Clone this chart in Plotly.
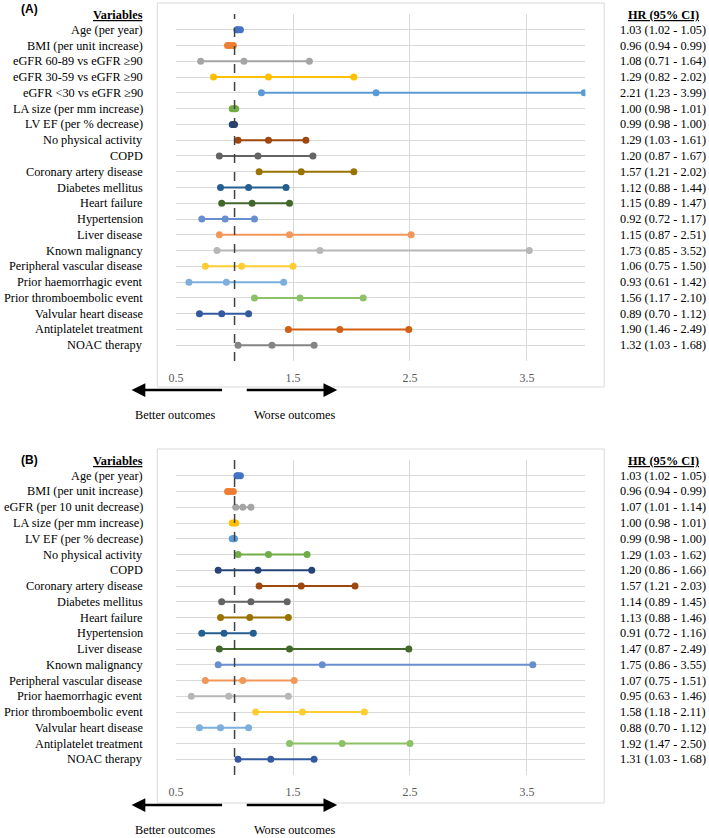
import plotly.graph_objects as go

# ---------------- Panel A data ----------------
vars_a = ["Age (per year)", "BMI (per unit increase)", "eGFR 60-89 vs eGFR ≥90",
          "eGFR 30-59 vs eGFR ≥90", "eGFR <30 vs eGFR ≥90", "LA size (per mm increase)",
          "LV EF (per % decrease)", "No physical activity", "COPD", "Coronary artery disease",
          "Diabetes mellitus", "Heart failure", "Hypertension", "Liver disease",
          "Known malignancy", "Peripheral vascular disease", "Prior haemorrhagic event",
          "Prior thromboembolic event", "Valvular heart disease", "Antiplatelet treatment",
          "NOAC therapy"]
hr_a = [1.03, 0.96, 1.08, 1.29, 2.21, 1.00, 0.99, 1.29, 1.20, 1.57, 1.12, 1.15, 0.92, 1.47,
        1.73, 1.06, 0.93, 1.56, 0.89, 1.90, 1.32]
lo_a = [1.02, 0.94, 0.71, 0.82, 1.23, 0.98, 0.98, 1.03, 0.87, 1.21, 0.88, 0.89, 0.72, 0.87,
        0.85, 0.75, 0.61, 1.17, 0.70, 1.46, 1.03]
hi_a = [1.05, 0.99, 1.64, 2.02, 3.99, 1.01, 1.00, 1.61, 1.67, 2.02, 1.44, 1.47, 1.17, 2.51,
        3.52, 1.50, 1.42, 2.10, 1.12, 2.49, 1.68]
text_a = ["1.03 (1.02 - 1.05)", "0.96 (0.94 - 0.99)", "1.08 (0.71 - 1.64)", "1.29 (0.82 - 2.02)",
          "2.21 (1.23 - 3.99)", "1.00 (0.98 - 1.01)", "0.99 (0.98 - 1.00)", "1.29 (1.03 - 1.61)",
          "1.20 (0.87 - 1.67)", "1.57 (1.21 - 2.02)", "1.12 (0.88 - 1.44)", "1.15 (0.89 - 1.47)",
          "0.92 (0.72 - 1.17)", "1.15 (0.87 - 2.51)", "1.73 (0.85 - 3.52)", "1.06 (0.75 - 1.50)",
          "0.93 (0.61 - 1.42)", "1.56 (1.17 - 2.10)", "0.89 (0.70 - 1.12)", "1.90 (1.46 - 2.49)",
          "1.32 (1.03 - 1.68)"]

# ---------------- Panel B data ----------------
vars_b = ["Age (per year)", "BMI (per unit increase)", "eGFR (per 10 unit decrease)",
          "LA size (per mm increase)", "LV EF (per % decrease)", "No physical activity", "COPD",
          "Coronary artery disease", "Diabetes mellitus", "Heart failure", "Hypertension",
          "Liver disease", "Known malignancy", "Peripheral vascular disease",
          "Prior haemorrhagic event", "Prior thromboembolic event", "Valvular heart disease",
          "Antiplatelet treatment", "NOAC therapy"]
hr_b = [1.03, 0.96, 1.07, 1.00, 0.99, 1.29, 1.20, 1.57, 1.14, 1.13, 0.91, 1.47, 1.75, 1.07,
        0.95, 1.58, 0.88, 1.92, 1.31]
lo_b = [1.02, 0.94, 1.01, 0.98, 0.98, 1.03, 0.86, 1.21, 0.89, 0.88, 0.72, 0.87, 0.86, 0.75,
        0.63, 1.18, 0.70, 1.47, 1.03]
hi_b = [1.05, 0.99, 1.14, 1.01, 1.00, 1.62, 1.66, 2.03, 1.45, 1.46, 1.16, 2.49, 3.55, 1.51,
        1.46, 2.11, 1.12, 2.50, 1.68]
text_b = ["1.03 (1.02 - 1.05)", "0.96 (0.94 - 0.99)", "1.07 (1.01 - 1.14)", "1.00 (0.98 - 1.01)",
          "0.99 (0.98 - 1.00)", "1.29 (1.03 - 1.62)", "1.20 (0.86 - 1.66)", "1.57 (1.21 - 2.03)",
          "1.14 (0.89 - 1.45)", "1.13 (0.88 - 1.46)", "0.91 (0.72 - 1.16)", "1.47 (0.87 - 2.49)",
          "1.75 (0.86 - 3.55)", "1.07 (0.75 - 1.51)", "0.95 (0.63 - 1.46)", "1.58 (1.18 - 2.11)",
          "0.88 (0.70 - 1.12)", "1.92 (1.47 - 2.50)", "1.31 (1.03 - 1.68)"]

x_ticks = [0.5, 1.5, 2.5, 3.5]

# Excel-like palette (style)
palette = ["#4472C4", "#ED7D31", "#A5A5A5", "#FFC000", "#5B9BD5", "#70AD47", "#264478",
           "#9E480E", "#636363", "#997300", "#255E91", "#43682B", "#698ED0", "#F1975A",
           "#B7B7B7", "#FFCD33", "#7CAFDD", "#8CC168", "#335AA1", "#D26012", "#848484"]

W, H = 709, 838
def px(x):
    return x / W
def py(y):
    return 1 - y / H

SERIF = "Liberation Serif"
SANS = "Liberation Sans"
FS = 12.3

fig = go.Figure()

panels = [
    dict(vars=vars_a, hr=hr_a, lo=lo_a, hi=hi_a, text=text_a, xa="x", ya="y",
         top=14, bot=361, box_top=3, box_bot=387, hdr=15, tag="(A)", tag_y=9,
         arrow_y=390, out_y=415),
    dict(vars=vars_b, hr=hr_b, lo=lo_b, hi=hi_b, text=text_b, xa="x2", ya="y2",
         top=460, bot=775, box_top=449, box_bot=803, hdr=461, tag="(B)", tag_y=460,
         arrow_y=805, out_y=830),
]

shapes = []
annotations = []
for p in panels:
    n = len(p["vars"])
    for i in range(n):
        fig.add_trace(go.Scatter(
            x=[p["lo"][i], p["hr"][i], p["hi"][i]], y=[i + 1] * 3,
            mode="lines+markers", xaxis=p["xa"], yaxis=p["ya"],
            line=dict(color=palette[i], width=2),
            marker=dict(color=palette[i], size=7),
            showlegend=False, hoverinfo="skip"))
        annotations.append(dict(x=px(139), xref="paper", y=i + 1, yref=p["ya"],
                                text=p["vars"][i], showarrow=False, xanchor="right",
                                yanchor="middle", font=dict(family=SERIF, size=FS, color="#000")))
        annotations.append(dict(x=px(662), xref="paper", y=i + 1, yref=p["ya"],
                                text=p["text"][i], showarrow=False, xanchor="center",
                                yanchor="middle", font=dict(family=SERIF, size=FS, color="#000")))
    # headers
    annotations.append(dict(x=px(139), xref="paper", y=py(p["hdr"]), yref="paper",
                            text="<b><u>Variables</u></b>", showarrow=False, xanchor="right",
                            yanchor="middle", font=dict(family=SERIF, size=FS, color="#000")))
    annotations.append(dict(x=px(663), xref="paper", y=py(p["hdr"]), yref="paper",
                            text="<b><u>HR (95% CI)</u></b>", showarrow=False, xanchor="center",
                            yanchor="middle", font=dict(family=SERIF, size=FS, color="#000")))
    annotations.append(dict(x=px(11), xref="paper", y=py(p["tag_y"]), yref="paper",
                            text="<b>" + p["tag"] + "</b>", showarrow=False, xanchor="left",
                            yanchor="middle", font=dict(family=SANS, size=12, color="#000")))
    # arrows
    annotations.append(dict(x=px(125), xref="paper", y=py(p["arrow_y"]), yref="paper",
                            ax=92, ay=0, axref="pixel", ayref="pixel", text="", showarrow=True,
                            arrowhead=2, arrowsize=1.1, arrowwidth=2.5, arrowcolor="#000"))
    annotations.append(dict(x=px(333), xref="paper", y=py(p["arrow_y"]), yref="paper",
                            ax=-92, ay=0, axref="pixel", ayref="pixel", text="", showarrow=True,
                            arrowhead=2, arrowsize=1.1, arrowwidth=2.5, arrowcolor="#000"))
    annotations.append(dict(x=px(169), xref="paper", y=py(p["out_y"]), yref="paper",
                            text="Better outcomes", showarrow=False, xanchor="center",
                            yanchor="middle", font=dict(family=SERIF, size=FS, color="#000")))
    annotations.append(dict(x=px(290), xref="paper", y=py(p["out_y"]), yref="paper",
                            text="Worse outcomes", showarrow=False, xanchor="center",
                            yanchor="middle", font=dict(family=SERIF, size=FS, color="#000")))
    # outer box
    shapes.append(dict(type="rect", xref="paper", yref="paper", x0=px(151), x1=px(603),
                       y0=py(p["box_bot"]), y1=py(p["box_top"]),
                       line=dict(color="#D9D9D9", width=1), layer="below"))
    # dashed reference line at HR = 1
    shapes.append(dict(type="line", xref=p["xa"], yref=p["ya"] + " domain", x0=1, x1=1,
                       y0=0, y1=1, line=dict(color="#404040", width=1.5, dash="dash")))

axis_x = dict(range=[0.5, 4.0], tickvals=x_ticks, ticktext=[str(v) for v in x_ticks],
              showgrid=True, gridcolor="#D9D9D9", gridwidth=1, zeroline=False,
              showline=False, ticks="outside", ticklen=6, tickcolor="rgba(0,0,0,0)",
              tickfont=dict(family=SERIF, size=12, color="#595959"), fixedrange=True)

fig.update_layout(
    width=W, height=H, margin=dict(l=0, r=0, t=0, b=0),
    paper_bgcolor="white", plot_bgcolor="white",
    xaxis=dict(axis_x, domain=[px(170), px(584)], anchor="y"),
    yaxis=dict(range=[len(vars_a) + 1, 0], dtick=1, tick0=0, showgrid=True,
               gridcolor="#D9D9D9", showticklabels=False, zeroline=False,
               domain=[py(361), py(14)], anchor="x"),
    xaxis2=dict(axis_x, domain=[px(170), px(584)], anchor="y2"),
    yaxis2=dict(range=[len(vars_b) + 1, 0], dtick=1, tick0=0, showgrid=True,
                gridcolor="#D9D9D9", showticklabels=False, zeroline=False,
                domain=[py(775), py(460)], anchor="x2"),
    shapes=shapes, annotations=annotations,
)

fig.write_html("out.html", config={"displayModeBar": False},
               post_script="document.body.style.margin='0';document.body.style.overflow='hidden';")
